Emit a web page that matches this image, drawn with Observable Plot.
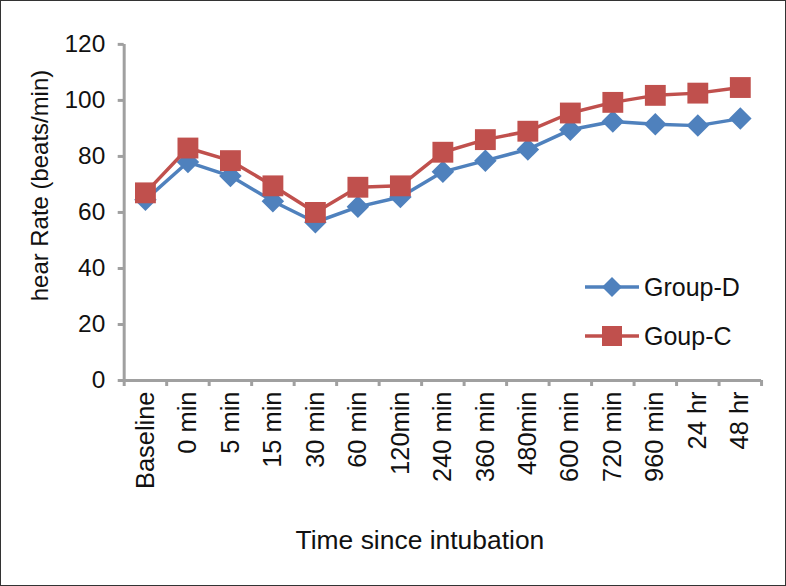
<!DOCTYPE html>
<html>
<head>
<meta charset="utf-8">
<script src="https://cdn.jsdelivr.net/npm/d3@7"></script>
<script src="https://cdn.jsdelivr.net/npm/@observablehq/plot@0.6"></script>
<style>
  html, body { margin: 0; padding: 0; background: #fff; }
  #wrap { position: relative; width: 786px; height: 586px; box-sizing: border-box; border: 1px solid #333; overflow: hidden; font-family: "Liberation Sans", Arial, sans-serif; }
  #wrap svg.plot { position: absolute; left: -1px; top: -1px; }
  #legend { position: absolute; left: 584px; top: 268px; font-size: 25px; color: #111; }
  .item { display: flex; align-items: center; height: 36px; margin-bottom: 13px; }
  .item svg { margin-right: 5px; }
</style>
</head>
<body>
<div id="wrap"></div>
<script>
const categories = ["Baseline","0 min","5 min","15 min","30 min","60 min","120min","240 min","360 min","480min","600 min","720 min","960 min","24 hr","48 hr"];
const groupD = [64.5, 78, 73, 64, 56.5, 62, 65.5, 74.5, 78.5, 82.5, 89.5, 92.5, 91.5, 91, 93.5];
const groupC = [67, 83, 78.5, 69.5, 60, 69, 69.5, 81.5, 86, 89, 95.5, 99.3, 101.8, 102.6, 104.6];
const seriesNames = ["Group-D", "Goup-C"];
const colors = ["#4F81BD", "#C0504D"];
const yTicks = [0, 20, 40, 60, 80, 100, 120];

const rowsD = groupD.map((v, i) => ({i, v}));
const rowsC = groupC.map((v, i) => ({i, v}));
const idx = d3.range(categories.length);
const bounds = d3.range(categories.length + 1).map(k => k - 0.5);
const axisColor = "#A0A0A0";

const chart = Plot.plot({
  width: 786,
  height: 586,
  marginLeft: 124,
  marginRight: 23,
  marginTop: 44,
  marginBottom: 205,
  style: {fontFamily: "Liberation Sans, Arial, sans-serif", fontSize: "24px", color: "#111", background: "transparent"},
  x: {type: "linear", domain: [-0.5, categories.length - 0.5]},
  y: {domain: [0, 120]},
  marks: [
    Plot.axisY(yTicks, {tickSize: 6, tickPadding: 13, stroke: axisColor, strokeWidth: 3, fill: "#111", fontSize: 24.5, label: null}),
    Plot.axisX(bounds, {tickSize: 6, tickFormat: () => "", stroke: axisColor, strokeWidth: 3, label: null}),
    Plot.axisX(idx, {tickSize: 0, tickPadding: 11, tickRotate: -90, textAnchor: "end", tickFormat: i => categories[i], fill: "#111", fontSize: 25.5, label: null}),
    Plot.ruleY([0], {stroke: axisColor, strokeWidth: 3}),
    Plot.ruleX([-0.5], {stroke: axisColor, strokeWidth: 3}),
    Plot.line(rowsD, {x: "i", y: "v", stroke: colors[0], strokeWidth: 3.5}),
    Plot.dot(rowsD, {x: "i", y: "v", symbol: "square", rotate: 45, r: 9, fill: colors[0], stroke: "none"}),
    Plot.line(rowsC, {x: "i", y: "v", stroke: colors[1], strokeWidth: 3.5}),
    Plot.dot(rowsC, {x: "i", y: "v", symbol: "square", r: 11.8, fill: colors[1], stroke: "none"}),
    Plot.text(["hear Rate (beats/min)"], {frameAnchor: "left", textAnchor: "middle", dx: -84, dy: -27, rotate: -90, fontSize: 24, fill: "#111"}),
    Plot.text(["Time since intubation"], {frameAnchor: "bottom", textAnchor: "middle", dx: -23, dy: 169, fontSize: 26.5, fill: "#111"})
  ]
});
chart.classList.add("plot");
const wrap = document.getElementById("wrap");
wrap.appendChild(chart);

// legend
const legend = document.createElement("div");
legend.id = "legend";
seriesNames.forEach((name, k) => {
  const item = document.createElement("div");
  item.className = "item";
  const sw = d3.create("svg").attr("width", 54).attr("height", 24);
  sw.append("line").attr("x1", 0).attr("x2", 54).attr("y1", 12).attr("y2", 12).attr("stroke", colors[k]).attr("stroke-width", 3.5);
  if (k === 0) {
    sw.append("path").attr("d", "M27,2 L37,12 L27,22 L17,12 Z").attr("fill", colors[k]);
  } else {
    sw.append("rect").attr("x", 17).attr("y", 2).attr("width", 20).attr("height", 20).attr("fill", colors[k]);
  }
  item.appendChild(sw.node());
  const t = document.createElement("span");
  t.textContent = name;
  item.appendChild(t);
  legend.appendChild(item);
});
wrap.appendChild(legend);
</script>
</body>
</html>
